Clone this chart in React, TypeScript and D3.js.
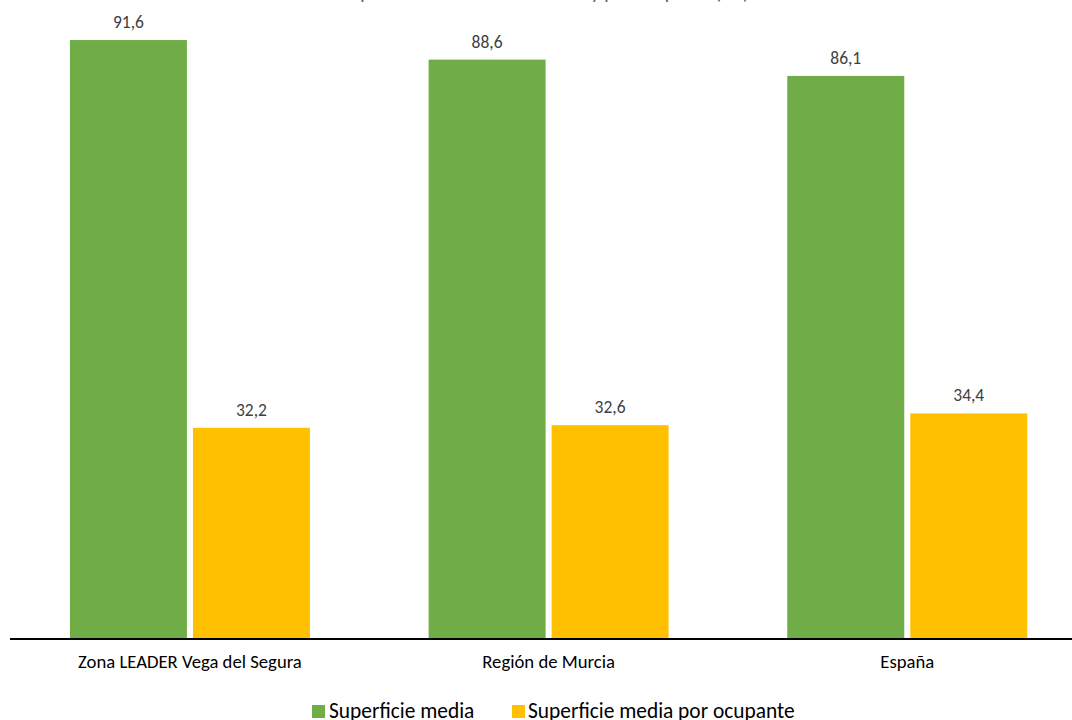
import React from "react";
import * as d3 from "d3";

const categories = ["Zona LEADER Vega del Segura", "Región de Murcia", "España"];
const seriesNames = ["Superficie media", "Superficie media por ocupante"];
const superficieMedia = [91.6, 88.6, 86.1];
const superficieOcupante = [32.2, 32.6, 34.4];
const colors = ["#70AD47", "#FFC000"];
const title = "Superficie media de la vivienda y por ocupante (m²)";

const W = 1072;
const H = 720;

export default function App() {
  const x = d3.scaleBand<string>().domain(categories).range([10.6, 1086.6]).paddingInner(0).paddingOuter(0);
  const y = d3.scaleLinear().domain([0, 100]).range([638, 638 - 652.8]);
  const barW = 117;
  const gap = 6;
  const series = [superficieMedia, superficieOcupante];
  const fmt = (v: number) => v.toFixed(1).replace(".", ",");
  const font = "Carlito, Calibri, 'Open Sans', 'Liberation Sans', sans-serif";

  return (
    <svg width={W} height={H} style={{ position: "absolute", left: 0, top: 0, background: "#fff" }} fontFamily={font}>
      <text x={545} y={-1.5} textAnchor="middle" fontSize={19.5} fill="#595959">{title}</text>
      {categories.map((c, i) => {
        const cx = (x(c) as number) + x.bandwidth() / 2;
        return (
          <g key={c}>
            {series.map((s, j) => {
              const bx = cx - barW - gap / 2 + j * (barW + gap);
              const top = y(s[i]);
              return (
                <g key={j}>
                  <rect x={bx} y={top} width={barW} height={y(0) - top} fill={colors[j]} />
                  <text x={bx + barW / 2} y={top - 12} textAnchor="middle" fontSize={17.5} fill="#404040">{fmt(s[i])}</text>
                </g>
              );
            })}
            <text x={cx} y={668} textAnchor="middle" fontSize={18.7} fill="#000">{c}</text>
          </g>
        );
      })}
      <line x1={10} x2={W} y1={y(0) + 1} y2={y(0) + 1} stroke="#000" strokeWidth={2} />
      <g>
        <rect x={312} y={705} width={13} height={13} fill={colors[0]} />
        <text x={329} y={718} fontSize={21.4} fill="#000">{seriesNames[0]}</text>
        <rect x={512} y={705} width={13} height={13} fill={colors[1]} />
        <text x={528} y={718} fontSize={21.4} fill="#000">{seriesNames[1]}</text>
      </g>
    </svg>
  );
}
